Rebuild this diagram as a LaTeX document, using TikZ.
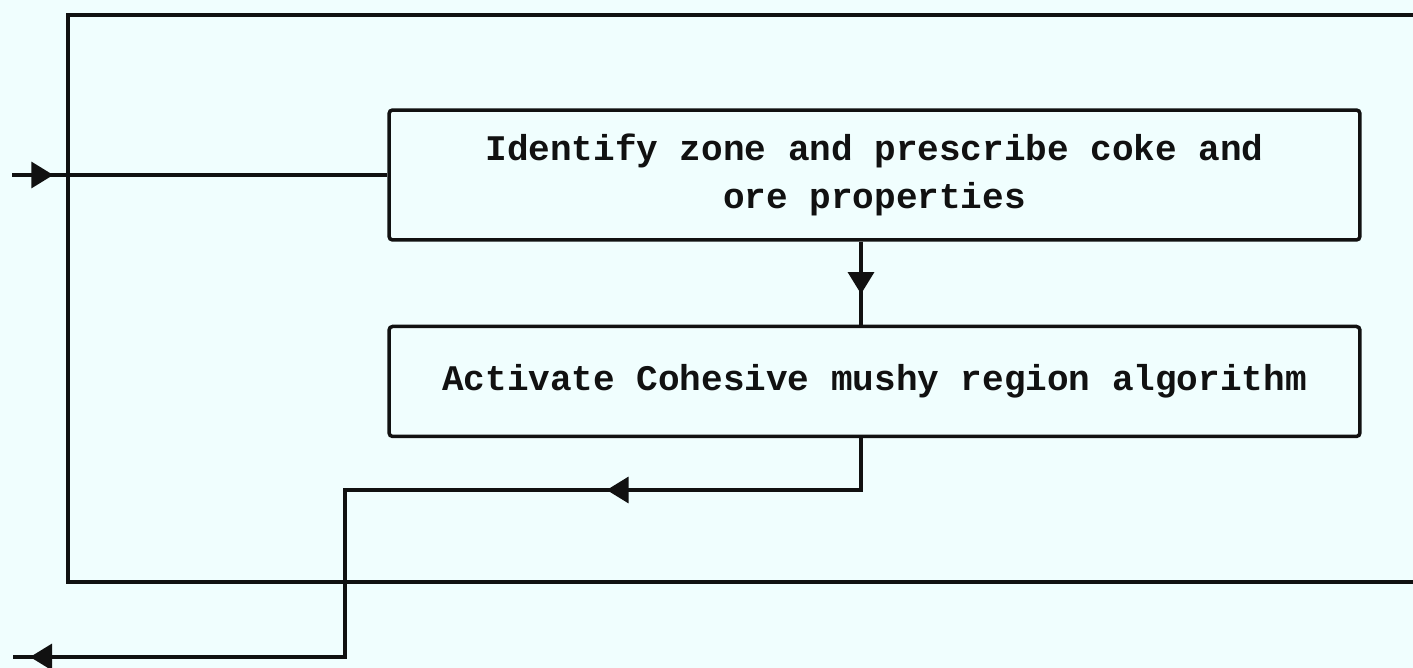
\documentclass[tikz,border=0pt]{standalone}
\usepackage{fontspec}
\setmonofont{Liberation Mono}
\usetikzlibrary{arrows.meta, positioning, calc, decorations.markings}
\definecolor{fondoHoja}{HTML}{F0FEFE}
\definecolor{tinta}{HTML}{111111}
\tikzset{
  cajaPaso/.style={
    draw=tinta, line width=2pt, rounded corners=2pt,
    minimum width=19.42cm, align=center,
    font=\ttfamily\bfseries\fontsize{20.5}{27.3}\selectfont, text=tinta
  },
  linea/.style={draw=tinta, line width=2pt},
  puntaEn/.style={postaction={decorate, decoration={markings,
    mark=at position #1 with {\arrow{Triangle[length=4.4mm, width=5.2mm]}}}}},
}

\begin{document}
\begin{tikzpicture}[x=0.02cm, y=-0.02cm, node distance=1.66cm]
    \fill[fondoHoja] (0,0) rectangle (1413,668);
    \useasboundingbox (0,0) rectangle (1413,668);
    % cajas del proceso
    \node[cajaPaso, minimum height=2.6cm] (zona) at (874.5,175)
      {Identify zone and prescribe coke and\\ore properties};
    \node[cajaPaso, minimum height=2.2cm, below=of zona] (cohesiva)
      {Activate Cohesive mushy region algorithm};
    % puntos libres
    \coordinate (entrada) at (12,175);
    \coordinate (salida) at (13,657);
    \coordinate (eje) at (861,0);
    \coordinate (codo) at (345,490);
    % lazo exterior
    \draw[linea] (1413,15) -- (68,15) -- (68,582) -- (1413,582);
    % conectores
    \draw[linea, puntaEn=0.11] (entrada) -- (zona.west);
    \draw[linea, puntaEn=0.63] (zona.south -| eje) -- (cohesiva.north -| eje);
    \draw[linea, puntaEn=0.287, puntaEn=0.984] (cohesiva.south -| eje) |- (codo) |- (salida);
  \end{tikzpicture}
\end{document}
